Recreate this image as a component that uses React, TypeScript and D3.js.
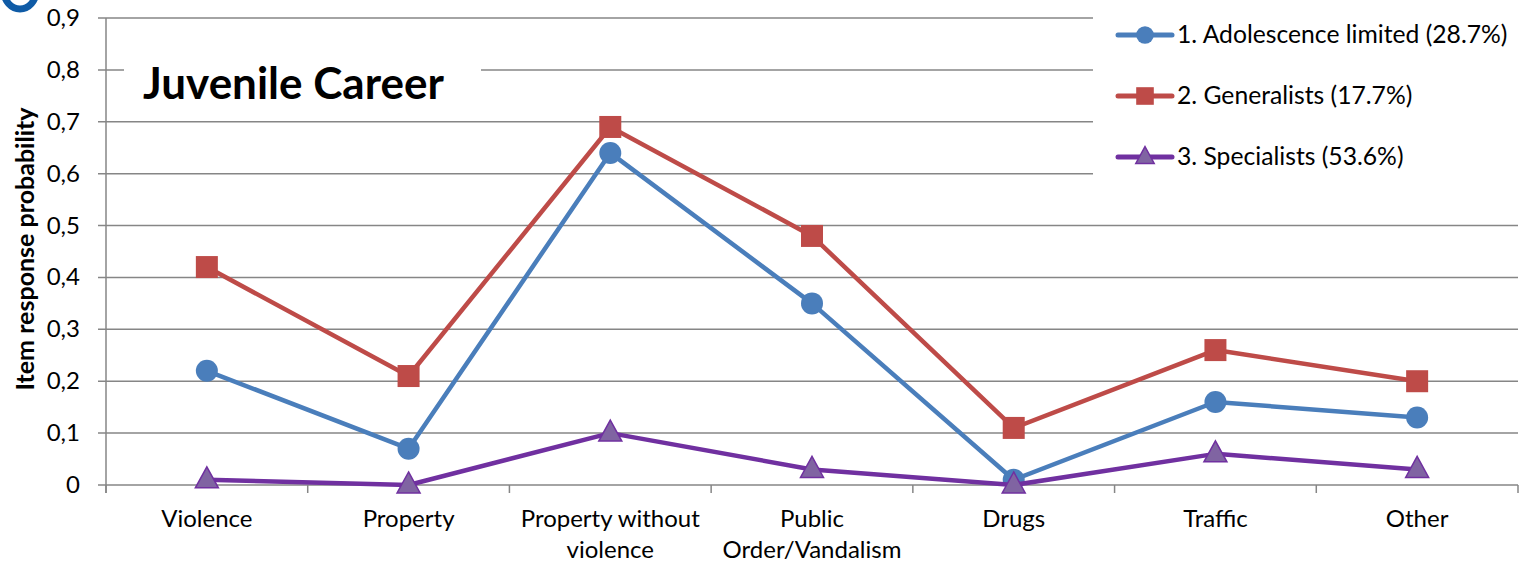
import React from "react";
import * as d3 from "d3";

const categories = ["Violence", "Property", "Property without violence", "Public Order/Vandalism", "Drugs", "Traffic", "Other"];
const categoryLines = [["Violence"], ["Property"], ["Property without", "violence"], ["Public", "Order/Vandalism"], ["Drugs"], ["Traffic"], ["Other"]];
const adolescenceLimited = [0.22, 0.07, 0.64, 0.35, 0.01, 0.16, 0.13];
const generalists = [0.42, 0.21, 0.69, 0.48, 0.11, 0.26, 0.20];
const specialists = [0.01, 0.0, 0.10, 0.03, 0.0, 0.06, 0.03];
const yTicks = [0, 0.1, 0.2, 0.3, 0.4, 0.5, 0.6, 0.7, 0.8, 0.9];
const seriesNames = ["1. Adolescence limited (28.7%)", "2. Generalists (17.7%)", "3. Specialists (53.6%)"];

const W = 1522, H = 564;
const left = 106, right = 1518, top = 18, bottom = 485;
const FONT = "Lato, 'Open Sans', sans-serif";

const series = [
  { name: seriesNames[0], values: adolescenceLimited, line: "#4a7ebb", fill: "#4a7ebb", stroke: "#4a7ebb", shape: "circle" },
  { name: seriesNames[1], values: generalists, line: "#be4b48", fill: "#be4b48", stroke: "#be4b48", shape: "square" },
  { name: seriesNames[2], values: specialists, line: "#7030a0", fill: "#8064a2", stroke: "#7030a0", shape: "triangle" },
];

function Marker({ shape, x, y, fill, stroke, s = 1 }: any) {
  if (shape === "circle") return <circle cx={x} cy={y} r={11 * s} fill={fill} />;
  if (shape === "square") return <rect x={x - 11 * s} y={y - 11 * s} width={22 * s} height={22 * s} fill={fill} />;
  const h = 21 * s, w = 23 * s;
  return <path d={`M${x},${y - h * 0.62} L${x + w / 2},${y + h * 0.38} L${x - w / 2},${y + h * 0.38} Z`} fill={fill} stroke={stroke} strokeWidth={1.5} />;
}

export default function App() {
  const x = d3.scaleBand<string>().domain(categories).range([left, right]).padding(0);
  const y = d3.scaleLinear().domain([0, 0.9]).range([bottom, top]);
  const line = d3.line<number>().x((_, i) => (x(categories[i]) as number) + x.bandwidth() / 2).y((d) => y(d));
  const grid = "#868686";
  const boundaries = categories.map((c) => x(c) as number).concat([right]);

  return (
    <svg width={W} height={H} style={{ position: "absolute", left: 0, top: 0, background: "#fff" }}>
      <ellipse cx={20} cy={-9} rx={16} ry={18} fill="none" stroke="#0f5ba6" strokeWidth={7} />
      {yTicks.map((t) => (
        <g key={t}>
          <line x1={left - 8} x2={right} y1={y(t)} y2={y(t)} stroke={grid} strokeWidth={1.5} />
          <text x={80} y={y(t) + 8} textAnchor="end" fontFamily={FONT} fontSize={24} fill="#000">
            {String(Math.round(t * 10) / 10).replace(".", ",")}
          </text>
        </g>
      ))}
      <line x1={left} x2={left} y1={top} y2={bottom + 8} stroke={grid} strokeWidth={1.5} />
      {boundaries.map((b, i) => (
        <line key={i} x1={b} x2={b} y1={bottom} y2={bottom + 8} stroke={grid} strokeWidth={1.5} />
      ))}
      {/* title & legend backgrounds */}
      <rect x={124} y={50} width={357} height={62} fill="#fff" />
      <text x={143} y={99} fontFamily={FONT} fontWeight="bold" fontSize={44} fill="#000">Juvenile Career</text>
      <rect x={1093} y={0} width={W - 1093} height={200} fill="#fff" />
      {series.map((s, i) => {
        const ly = 35 + i * 61;
        return (
          <g key={s.name}>
            <line x1={1118} x2={1172} y1={ly} y2={ly} stroke={s.line} strokeWidth={5} strokeLinecap="round" />
            <Marker shape={s.shape} x={1145} y={ly} fill={s.fill} stroke={s.stroke} s={0.8} />
            <text x={1177} y={ly + 8} fontFamily={FONT} fontSize={24.7} fill="#000">{s.name}</text>
          </g>
        );
      })}
      {series.map((s) => (
        <g key={s.name}>
          <path d={line(s.values) as string} fill="none" stroke={s.line} strokeWidth={4.5} strokeLinejoin="round" />
          {s.values.map((v, i) => (
            <Marker key={i} shape={s.shape} x={(x(categories[i]) as number) + x.bandwidth() / 2} y={y(v)} fill={s.fill} stroke={s.stroke} />
          ))}
        </g>
      ))}
      {categoryLines.map((ls, i) => (
        <text key={i} textAnchor="middle" fontFamily={FONT} fontSize={24} fill="#000">
          {ls.map((l, j) => (
            <tspan key={j} x={(x(categories[i]) as number) + x.bandwidth() / 2} y={527 + j * 31}>{l}</tspan>
          ))}
        </text>
      ))}
      <text transform="translate(34,249) rotate(-90)" textAnchor="middle" fontFamily={FONT} fontWeight="bold" fontSize={25} fill="#000">
        Item response probability
      </text>
    </svg>
  );
}
